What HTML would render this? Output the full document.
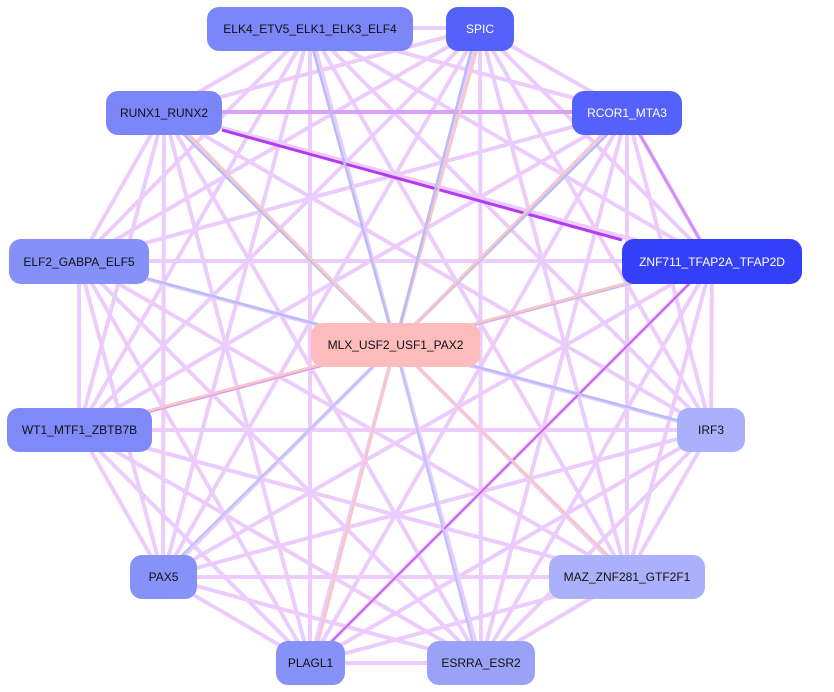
<!DOCTYPE html>
<html><head><meta charset="utf-8"><style>
body{margin:0;background:#fff;width:834px;height:692px;overflow:hidden;font-family:"Liberation Sans",sans-serif}
.n{position:absolute;border-radius:12px;display:flex;align-items:center;justify-content:center;font-size:12px;color:#111}
svg{position:absolute;left:0;top:0}
</style></head><body>
<svg id="g" width="834" height="692"></svg>
<div class="n" style="left:207px;top:7px;width:206px;height:44px;background:#7b86f8">ELK4_ETV5_ELK1_ELK3_ELF4</div>
<div class="n" style="left:446px;top:7px;width:68px;height:44px;background:#5462fa;color:#fff">SPIC</div>
<div class="n" style="left:106px;top:91px;width:116px;height:44px;background:#7b86f8">RUNX1_RUNX2</div>
<div class="n" style="left:572px;top:91px;width:110px;height:44px;background:#5462fa;color:#fff">RCOR1_MTA3</div>
<div class="n" style="left:9px;top:239px;width:140px;height:45px;background:#8590f8">ELF2_GABPA_ELF5</div>
<div class="n" style="left:622px;top:239px;width:180px;height:45px;background:#3340f8;color:#fff">ZNF711_TFAP2A_TFAP2D</div>
<div class="n" style="left:311px;top:323px;width:169px;height:44px;background:#fdbcbc">MLX_USF2_USF1_PAX2</div>
<div class="n" style="left:7px;top:408px;width:145px;height:44px;background:#7f8af8">WT1_MTF1_ZBTB7B</div>
<div class="n" style="left:677px;top:408px;width:68px;height:44px;background:#aab0fa">IRF3</div>
<div class="n" style="left:130px;top:555px;width:67px;height:44px;background:#8792f8">PAX5</div>
<div class="n" style="left:549px;top:555px;width:156px;height:44px;background:#aab0fa">MAZ_ZNF281_GTF2F1</div>
<div class="n" style="left:276px;top:641px;width:69px;height:44px;background:#8792f8">PLAGL1</div>
<div class="n" style="left:427px;top:641px;width:108px;height:44px;background:#9aa2f8">ESRRA_ESR2</div>
<script>
var N={E:[310,28],S:[480,28],R:[164,112],C:[627,112],F:[79,261],Z:[712,261],M:[395,345],W:[79,430],I:[711,430],P:[163,577],Q:[627,577],L:[310,663],T:[481,663]};
var g=document.getElementById('g'),h='';
var k=Object.keys(N).filter(x=>x!='M');
function ln(a,b,c,w,o1,o2){h+='<line x1="'+(a[0]+o1)+'" y1="'+a[1]+'" x2="'+(b[0]+o2)+'" y2="'+b[1]+'" stroke="'+c+'" stroke-width="'+w+'"/>';}
for(var i=0;i<k.length;i++)for(var j=i+1;j<k.length;j++){ln(N[k[i]],N[k[j]],'#ecccfd',4,0,0);}
ln(N.R,N.C,'#dba0fb',4,0,0);ln(N.C,N.Z,'#d58ef9',3,0,0);ln(N.W,N.Z,'#d58ef9',3,0,0);ln(N.L,N.Z,'#c860f5',2,0,0);
ln([222,130],[622,240],'#b43af0',3,0,0);
[['E','#b8bcf8'],['S','#f8c6c4'],['S','#b8bcf8'],['C','#b8bcf8'],['C','#f8c6c4'],['Z','#b8bcf8'],['Z','#f8c6c4'],['F','#b8bcf8'],['R','#b8bcf8'],['R','#f8c6c4'],['W','#f8c6c4'],['I','#b8bcf8'],['P','#c0c4fa'],['L','#f8c6c4'],['T','#c0c4fa'],['Q','#f8c6c4']].forEach(function(p,ix){ln(N[p[0]],N.M,p[1],2.5,(ix%2)*6-3,0);});
g.innerHTML=h;
</script>
</body></html>
